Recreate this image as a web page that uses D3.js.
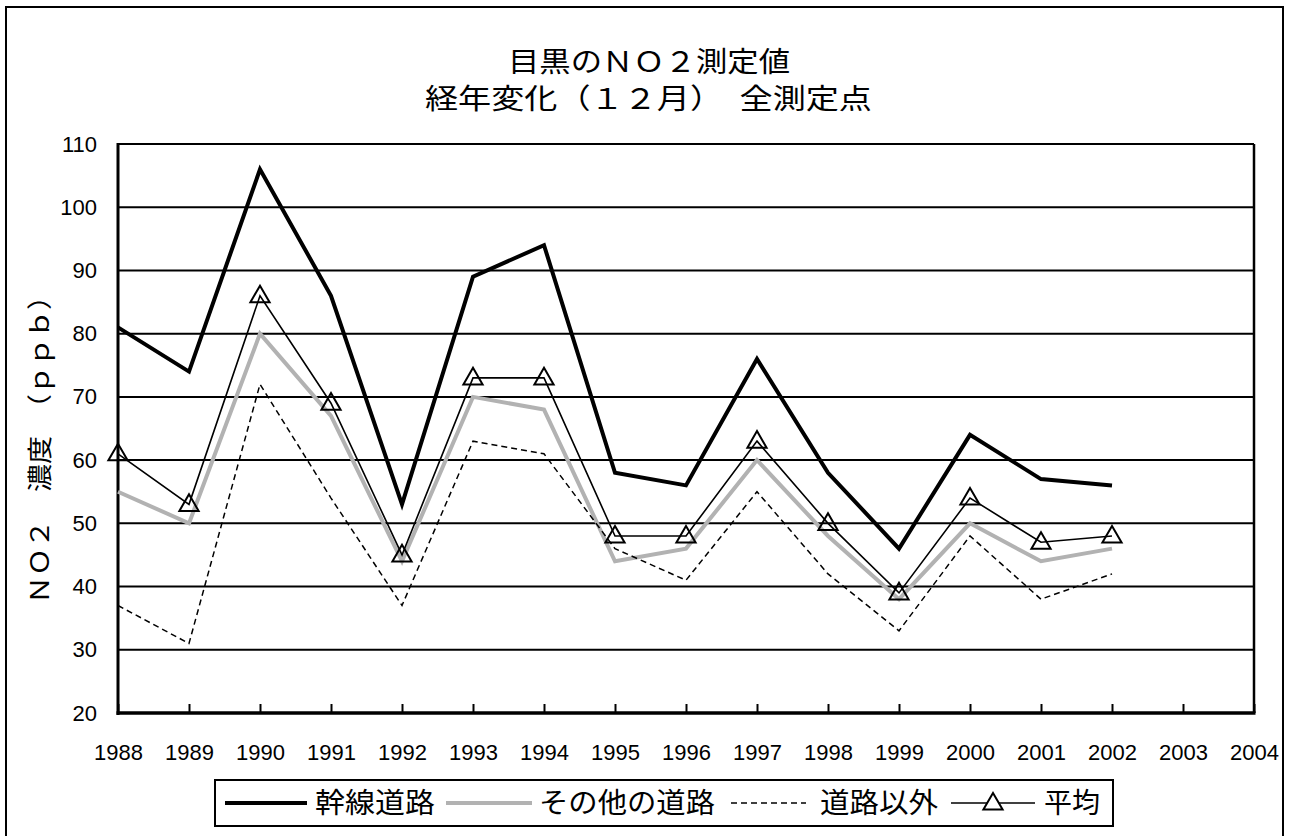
<!DOCTYPE html>
<html>
<head>
<meta charset="utf-8">
<script src="https://cdn.jsdelivr.net/npm/d3@7"></script>
<style>
  body { margin: 0; background: #fff; }
  svg { display: block; }
  .jp { font-family: "Noto Sans CJK JP", sans-serif; fill: #000; }
</style>
</head>
<body>
<div id="chart"></div>
<script>
// values (ppb, December)
const years = [1988, 1989, 1990, 1991, 1992, 1993, 1994, 1995, 1996, 1997, 1998, 1999, 2000, 2001, 2002];
const trunkRoad = [81, 74, 106, 86, 53, 89, 94, 58, 56, 76, 58, 46, 64, 57, 56];
const otherRoad = [55, 50, 80, 67, 44, 70, 68, 44, 46, 60, 48, 38, 50, 44, 46];
const nonRoad = [37, 31, 72, 54, 37, 63, 61, 46, 41, 55, 42, 33, 48, 38, 42];
const average = [61, 53, 86, 69, 45, 73, 73, 48, 48, 63, 50, 39, 54, 47, 48];
const xTicks = d3.range(1988, 2005);
const yTicks = [20, 30, 40, 50, 60, 70, 80, 90, 100, 110];
const seriesNames = ["幹線道路", "その他の道路", "道路以外", "平均"];
const titleLines = ["目黒のＮＯ２測定値", "経年変化（１２月）　全測定点"];
const yLabel = "ＮＯ２　濃度　（ｐｐｂ）";

var width = 1292, height = 836;
var margin = {top: 144, right: 38, bottom: 123, left: 118};
var numFont = "'Liberation Sans Narrow', 'Arial Narrow', 'Liberation Sans', sans-serif";

var svg = d3.select("#chart").append("svg")
    .attr("width", width)
    .attr("height", height);

// outer frame
svg.append("rect")
    .attr("x", 6).attr("y", 7)
    .attr("width", 1277).attr("height", 860)
    .attr("fill", "none").attr("stroke", "#000").attr("stroke-width", 2);

var x = d3.scaleLinear()
    .domain([1988, 2004])
    .range([margin.left, width - margin.right]);
var y = d3.scaleLinear()
    .domain([20, 110])
    .range([height - margin.bottom, margin.top]);

// grid lines
svg.append("g")
  .selectAll("line")
  .data(yTicks.filter(d => d > 20))
  .enter().append("line")
    .attr("x1", x(1988)).attr("x2", x(2004))
    .attr("y1", d => y(d)).attr("y2", d => y(d))
    .attr("stroke", "#000").attr("stroke-width", 2);

// right border
svg.append("line")
    .attr("x1", x(2004)).attr("x2", x(2004))
    .attr("y1", y(110)).attr("y2", y(20))
    .attr("stroke", "#000").attr("stroke-width", 2.5);

// y axis
var yAxis = svg.append("g")
    .attr("transform", "translate(" + x(1988) + ",0)")
    .call(d3.axisLeft(y).tickValues(yTicks).tickSize(0).tickPadding(21));
yAxis.attr("font-family", numFont).attr("font-size", 22);
yAxis.select(".domain").remove();
yAxis.selectAll("text").attr("fill", "#000");

// x axis, ticks pointing inward
var xAxis = svg.append("g")
    .attr("transform", "translate(0," + y(20) + ")")
    .call(d3.axisBottom(x).tickValues(xTicks).tickFormat(d3.format("d")).tickSize(-9).tickPadding(31));
xAxis.attr("font-family", numFont).attr("font-size", 22);
xAxis.select(".domain").remove();
xAxis.selectAll(".tick line").attr("stroke-width", 2);
xAxis.selectAll("text").attr("fill", "#000");

svg.append("line")
    .attr("x1", x(1988)).attr("x2", x(1988))
    .attr("y1", y(110) - 1).attr("y2", y(20) + 2)
    .attr("stroke", "#000").attr("stroke-width", 3);
svg.append("line")
    .attr("x1", x(1988) - 1.5).attr("x2", x(2004) + 1.5)
    .attr("y1", y(20)).attr("y2", y(20))
    .attr("stroke", "#000").attr("stroke-width", 3.5);

var line = d3.line()
    .x(d => x(d[0]))
    .y(d => y(d[1]));

function pairs(vals) { return years.map((yr, i) => [yr, vals[i]]); }

var styles = [
    {vals: trunkRoad, color: "#000", w: 4, dash: null},
    {vals: otherRoad, color: "#b2b2b2", w: 4, dash: null},
    {vals: nonRoad, color: "#000", w: 1.5, dash: "6,4"},
    {vals: average, color: "#000", w: 1.6, dash: null}
];

styles.forEach(s => {
    svg.append("path")
        .datum(pairs(s.vals))
        .attr("fill", "none")
        .attr("stroke", s.color)
        .attr("stroke-width", s.w)
        .attr("stroke-dasharray", s.dash)
        .attr("stroke-linejoin", "miter")
        .attr("d", line);
});

var tri = d3.symbol().type(d3.symbolTriangle).size(160);
svg.append("g")
  .selectAll("path")
  .data(pairs(average))
  .enter().append("path")
    .attr("d", tri)
    .attr("transform", d => "translate(" + x(d[0]) + "," + (y(d[1]) + 1) + ")")
    .attr("fill", "none")
    .attr("stroke", "#000")
    .attr("stroke-width", 2);

// title
svg.append("text").attr("class", "jp")
    .attr("x", 508).attr("y", 72)
    .attr("font-size", 28)
    .attr("textLength", 282).attr("lengthAdjust", "spacingAndGlyphs")
    .text(titleLines[0]);
svg.append("text").attr("class", "jp")
    .attr("x", 425).attr("y", 109)
    .attr("font-size", 28)
    .attr("textLength", 447).attr("lengthAdjust", "spacingAndGlyphs")
    .text(titleLines[1]);

// y label
svg.append("text").attr("class", "jp")
    .attr("transform", "translate(49,604) rotate(-90)")
    .attr("font-size", 25)
    .attr("textLength", 322).attr("lengthAdjust", "spacingAndGlyphs")
    .text(yLabel);

// legend
var lg = svg.append("g");
lg.append("rect")
    .attr("x", 215).attr("y", 780)
    .attr("width", 898).attr("height", 46)
    .attr("fill", "#fff").attr("stroke", "#000").attr("stroke-width", 2);

var legendItems = [
    {x1: 225, x2: 307, tx: 315, tw: 120},
    {x1: 446, x2: 532, tx: 539, tw: 176},
    {x1: 731, x2: 806, tx: 820, tw: 118},
    {x1: 951, x2: 1035, tx: 1044, tw: 56}
];
legendItems.forEach((it, i) => {
    var s = styles[i];
    lg.append("line")
        .attr("x1", it.x1).attr("x2", it.x2)
        .attr("y1", 803).attr("y2", 803)
        .attr("stroke", s.color)
        .attr("stroke-width", s.w)
        .attr("stroke-dasharray", s.dash);
    lg.append("text").attr("class", "jp")
        .attr("x", it.tx).attr("y", 813)
        .attr("font-size", 28)
        .attr("textLength", it.tw).attr("lengthAdjust", "spacingAndGlyphs")
        .text(seriesNames[i]);
});
lg.append("path")
    .attr("d", tri)
    .attr("transform", "translate(" + ((legendItems[3].x1 + legendItems[3].x2) / 2) + ",804)")
    .attr("fill", "#fff")
    .attr("stroke", "#000")
    .attr("stroke-width", 2);
</script>
</body>
</html>
